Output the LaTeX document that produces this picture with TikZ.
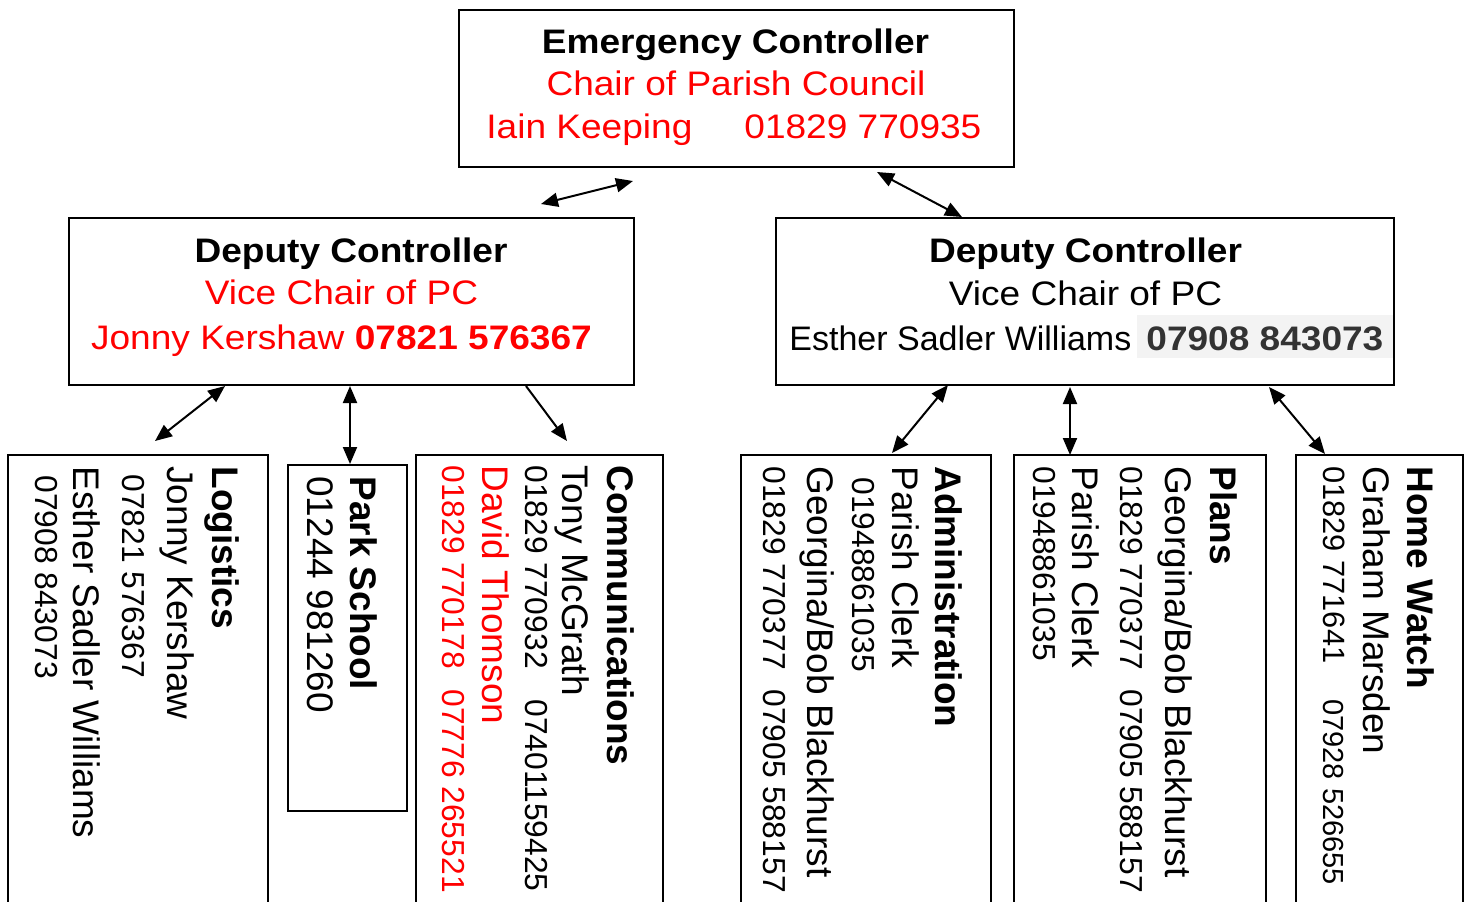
\documentclass[tikz,border=0pt]{standalone}
\usepackage{fontspec}
\setmainfont{Liberation Sans}
\newfontfamily\hfont[FakeStretch=1.09]{Liberation Sans}
\newfontfamily\nfont[FakeStretch=1.0]{Liberation Sans}
\usetikzlibrary{arrows.meta}
\definecolor{pcred}{HTML}{FF0000}
\definecolor{numgray}{HTML}{333333}
\definecolor{hlgray}{HTML}{F3F3F3}
\begin{document}
\begin{tikzpicture}[x=0.5pt,y=-0.5pt,
 box/.style={draw=black, line width=0.75pt, anchor=north west, inner sep=0, outer sep=0},
 htxt/.style={font=\hfont\fontsize{17}{20}\selectfont, inner sep=0, anchor=base},
 hbold/.style={htxt, font=\hfont\bfseries\fontsize{17}{20}\selectfont},
 rname/.style={rotate=-90, anchor=base west, inner sep=0, font=\fontsize{18.5}{22}\selectfont},
 rbold/.style={rname, font=\bfseries\fontsize{18.5}{22}\selectfont},
 rnum/.style={rotate=-90, anchor=base west, inner sep=0, font=\fontsize{15.9}{19}\selectfont},
 arr/.style={line width=1pt, {Triangle[length=8.5pt,width=7pt]}-{Triangle[length=8.5pt,width=7pt]}},
 arrone/.style={line width=1pt, -{Triangle[length=8.5pt,width=7pt]}}
]
\useasboundingbox (0,0) rectangle (1469,901);
\clip (0,0) rectangle (1469,901);

% boxes
\node[box, minimum width=277.5pt, minimum height=78.5pt] (top) at (459,10) {};
\node[box, minimum width=282.5pt, minimum height=83.5pt] (dl) at (69,218) {};
\node[fill=hlgray, minimum width=128pt, minimum height=21.5pt, anchor=north west, inner sep=0] (hl) at (1137,315) {};
\node[box, minimum width=309pt, minimum height=83.5pt] (dr) at (776,218) {};
\node[box, minimum width=130pt, minimum height=235pt] (logi) at (8,455) {};
\node[box, minimum width=59.5pt, minimum height=173pt] (park) at (288,465) {};
\node[box, minimum width=123.5pt, minimum height=235pt] (comm) at (416,455) {};
\node[box, minimum width=125pt, minimum height=235pt] (admin) at (741,455) {};
\node[box, minimum width=126pt, minimum height=235pt] (plans) at (1014,455) {};
\node[box, minimum width=83.5pt, minimum height=235pt] (home) at (1296,455) {};

% top box text
\node[hbold] (t1) at (735.5,53) {Emergency Controller};
\node[htxt, text=pcred] (t2) at (736,95.5) {Chair of Parish Council};
\node[htxt, text=pcred, anchor=base west] (t3a) at (486,138) {Iain Keeping};
\node[htxt, text=pcred, anchor=base west] (t3b) at (744,138) {01829 770935};

% left deputy
\node[hbold] (dl1) at (351,262.7) {Deputy Controller};
\node[htxt, text=pcred] (dl2) at (341.5,304) {Vice Chair of PC};
\node[htxt, text=pcred] (dl3) at (341.5,349) {Jonny Kershaw \textbf{07821 576367}};

% right deputy
\node[hbold] (dr1) at (1085.5,262.7) {Deputy Controller};
\node[htxt] (dr2) at (1085.5,305) {Vice Chair of PC};
\node[inner sep=0, anchor=base west, font=\nfont\fontsize{17}{20}\selectfont] (dr3a) at (789,350) {Esther Sadler Williams};
\node[hbold, anchor=base west, text=numgray] (dr3b) at (1146,350) {07908 843073};

% Logistics
\node[rbold] (lg1) at (212,466) {Logistics};
\node[rname] (lg2) at (167,466) {Jonny Kershaw};
\node[rnum] (lg3) at (122,474) {07821 576367};
\node[rname] (lg4) at (73,466) {Esther Sadler Williams};
\node[rnum] (lg5) at (35,475) {07908 843073};

% Park School
\node[rbold] (ps1) at (350,476) {Park School};
\node[rname] (ps2) at (307,476) {01244 981260};

% Communications
\node[rbold] (cm1) at (607,465) {Communications};
\node[rname] (cm2) at (562,465) {Tony McGrath};
\node[rnum] (cm3a) at (525,465) {01829 770932};
\node[rnum] (cm3b) at (525,699) {07401159425};
\node[rname, text=pcred] (cm4) at (482,465) {David Thomson};
\node[rnum, text=pcred] (cm5a) at (442,465) {01829 770178};
\node[rnum, text=pcred] (cm5b) at (442,689) {07776 265521};

% Administration
\node[rbold] (ad1) at (935,466) {Administration};
\node[rname] (ad2) at (892,466) {Parish Clerk};
\node[rnum] (ad3) at (852,477) {01948861035};
\node[rname] (ad4) at (807,466) {Georgina/Bob Blackhurst};
\node[rnum] (ad5a) at (763,466) {01829 770377};
\node[rnum] (ad5b) at (763,689) {07905 588157};

% Plans
\node[rbold] (pl1) at (1210,466) {Plans};
\node[rname] (pl2) at (1165,466) {Georgina/Bob Blackhurst};
\node[rnum] (pl3a) at (1120,466) {01829 770377};
\node[rnum] (pl3b) at (1120,689) {07905 588157};
\node[rname] (pl4) at (1072,466) {Parish Clerk};
\node[rnum] (pl5) at (1033,466) {01948861035};

% Home Watch
\node[rbold] (hw1) at (1407,466) {Home Watch};
\node[rname] (hw2) at (1363,466) {Graham Marsden};
\node[rnum, font=\fontsize{15.4}{19}\selectfont] (hw3a) at (1323,466) {01829 771641};
\node[rnum, font=\fontsize{14.5}{19}\selectfont] (hw3b) at (1323,699) {07928 526655};

% connector end points
\coordinate (a1s) at (541,204);
\coordinate (a1e) at (633,181);
\coordinate (a2s) at (877,172);
\coordinate (a2e) at (962,217);
\coordinate (a3s) at (225,386);
\coordinate (a3e) at (155,441);
\coordinate (a4s) at (350,386);
\coordinate (a4e) at (350,464);
\coordinate (a5s) at (526,386);
\coordinate (a5e) at (567,441);
\coordinate (a6s) at (948,385);
\coordinate (a6e) at (892,453);
\coordinate (a7s) at (1070,387);
\coordinate (a7e) at (1070,455);
\coordinate (a8s) at (1269,387);
\coordinate (a8e) at (1325,454);

\draw[arr] (a1s) -- (a1e);
\draw[arr] (a2s) -- (a2e);
\draw[arr] (a3s) -- (a3e);
\draw[arr] (a4s) -- (a4e);
\draw[arrone] (a5s) -- (a5e);
\draw[arr] (a6s) -- (a6e);
\draw[arr] (a7s) -- (a7e);
\draw[arr] (a8s) -- (a8e);
\end{tikzpicture}
\end{document}
